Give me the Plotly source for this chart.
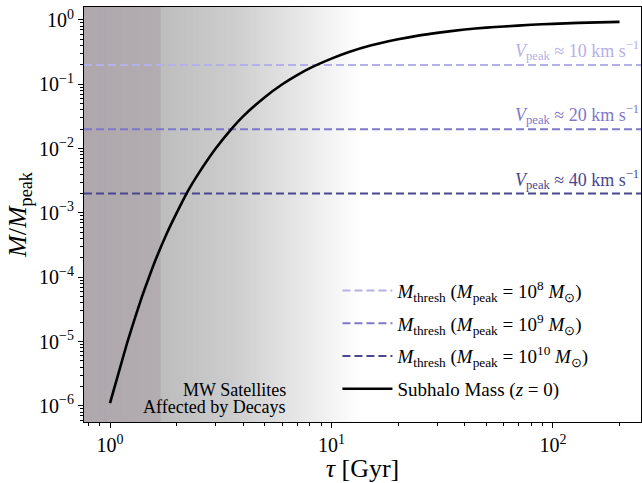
import numpy as np
import plotly.graph_objects as go

# ---- data ----
tau = [1, 1.1, 1.2, 1.3, 1.4, 1.5, 1.6, 1.8, 2, 2.25, 2.5, 3, 3.5, 4, 5, 6, 7, 8, 10, 12, 15, 20,
       25, 30, 40, 50, 60, 80, 100, 130, 160, 200]
mass = [1.1e-6, 3.5e-6, 1.0e-5, 2.4e-5, 5.2e-5, 1.0e-4, 1.8e-4, 4.7e-4, 1.0e-3, 2.2e-3,
        4.0e-3, 1.0e-2, 1.94e-2, 3.2e-2, 6.3e-2, 0.10, 0.139, 0.178, 0.25, 0.317,
        0.40, 0.50, 0.576, 0.63, 0.71, 0.76, 0.79, 0.84, 0.87, 0.90, 0.917, 0.933]

thresh = [0.2, 0.02, 0.002]
thresh_exp = ["8", "9", "10"]
vpeak = ["10", "20", "40"]
thresh_colors = ["#b5b0e8", "#7f78ca", "#4b468e"]

x_tickvals = [1, 10, 100]
x_ticktext = ["10<sup>0</sup>", "10<sup>1</sup>", "10<sup>2</sup>"]
y_tickvals = [1e-6, 1e-5, 1e-4, 1e-3, 1e-2, 1e-1, 1]
y_ticktext = ["10<sup>−6</sup>", "10<sup>−5</sup>", "10<sup>−4</sup>", "10<sup>−3</sup>",
              "10<sup>−2</sup>", "10<sup>−1</sup>", "10<sup>0</sup>"]

# background gradient stops (tau, rgb)
grad_tau = [0.763, 1.67, 1.69, 3.63, 7.2, 13.8]
grad_rgb = [(174, 167, 172), (179, 172, 177), (189, 189, 189),
            (205, 205, 205), (231, 231, 231), (255, 255, 255)]

xlim = [0.763, 250]
ylim = [5.6e-7, 1.59]

FONT = "Liberation Serif"

fig = go.Figure()

# gradient as overlapping vertical bands (each band runs to the gradient end)
lt = np.log10(grad_tau)
edges = np.linspace(np.log10(xlim[0]), np.log10(grad_tau[-1]), 110)
shapes = []
for a, b in zip(edges[:-1], edges[1:]):
    m = 0.5 * (a + b)
    rgb = [np.interp(m, lt, [c[i] for c in grad_rgb]) for i in range(3)]
    col = "rgb(%d,%d,%d)" % tuple(int(round(v)) for v in rgb)
    shapes.append(dict(type="rect", xref="x", yref="paper", x0=10 ** a, x1=grad_tau[-1],
                       y0=0, y1=1, fillcolor=col, line=dict(width=0), layer="below"))

for i, (t, e, c) in enumerate(zip(thresh, thresh_exp, thresh_colors)):
    fig.add_trace(go.Scatter(
        x=xlim, y=[t, t], mode="lines", legendgroup="g%d" % i,
        line=dict(color=c, width=2, dash="8px,4px"),
        name="<i>M</i><sub>thresh</sub> (<i>M</i><sub>peak</sub> = 10<sup>%s</sup> <i>M</i><sub>⊙</sub>)" % e,
    ))

fig.add_trace(go.Scatter(
    x=tau, y=mass, mode="lines", legendgroup="g3",
    line=dict(color="black", width=2.6, shape="spline", smoothing=0.5),
    name="Subhalo Mass (<i>z</i> = 0)",
))

annotations = []
for t, v, c in zip(thresh, vpeak, thresh_colors):
    annotations.append(dict(
        x=1.0, xref="paper", xanchor="right", y=np.log10(t), yref="y",
        yanchor="bottom", yshift=0,
        text="<i>V</i><sub>peak</sub> ≈ %s km s<sup>−1</sup>" % v,
        showarrow=False, font=dict(family=FONT, size=18, color=c),
    ))
for txt, ys in [("MW Satellites", 20), ("Affected by Decays", 3)]:
    annotations.append(dict(
        x=0.367, xref="paper", xanchor="right", y=0.0, yref="paper",
        yanchor="bottom", yshift=ys,
        text=txt, align="right", showarrow=False,
        font=dict(family=FONT, size=18, color="black"),
    ))

axis_common = dict(
    type="log", showgrid=False, zeroline=False, showline=True, linecolor="black",
    linewidth=1, mirror=True, ticks="outside", ticklen=5, tickwidth=1, tickcolor="black",
    automargin=False,
    minor=dict(ticks="outside", ticklen=3, tickwidth=0.8, tickcolor="black", dtick="D1"),
    tickfont=dict(family=FONT, size=20, color="black"),
)

fig.update_layout(
    width=642, height=483,
    margin=dict(l=84, r=1, t=7, b=61),
    paper_bgcolor="white", plot_bgcolor="white",
    shapes=shapes, annotations=annotations,
    xaxis=dict(axis_common, range=list(np.log10(xlim)),
               tickvals=x_tickvals, ticktext=x_ticktext,
               title=dict(text="<i>τ</i> [Gyr]", font=dict(family=FONT, size=26, color="black"), standoff=2)),
    yaxis=dict(axis_common, range=list(np.log10(ylim)),
               tickvals=y_tickvals, ticktext=y_ticktext,
               title=dict(text="<i>M</i>/<i>M</i><sub>peak</sub>", font=dict(family=FONT, size=26, color="black"), standoff=4)),
    legend=dict(x=0.455, y=0.362, xanchor="left", yanchor="top", bgcolor="rgba(0,0,0,0)",
                font=dict(family=FONT, size=19, color="black"), tracegroupgap=5,
                itemwidth=50),
    showlegend=True,
)

fig.write_html("out.html", config={"displayModeBar": False},
               post_script="document.body.style.margin='0';")
